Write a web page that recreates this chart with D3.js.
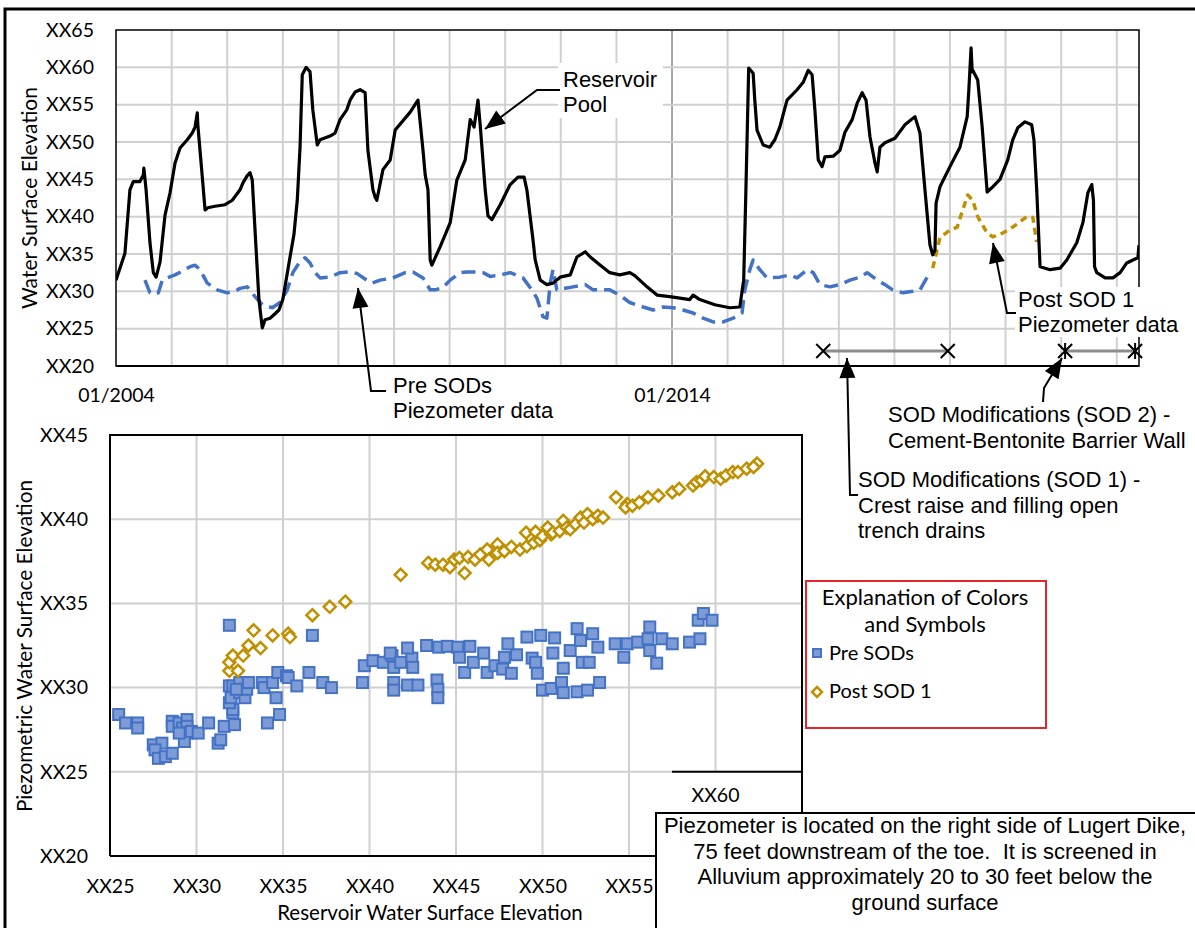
<!DOCTYPE html>
<html><head><meta charset="utf-8">
<script src="https://cdn.jsdelivr.net/npm/d3@7"></script>
<style>html,body{margin:0;padding:0;background:#fff;} svg{display:block}</style>
</head><body>
<svg id="c" width="1195" height="928"></svg>
<script>
// ---------------- DATA ----------------
// [decimal year, elevation (XX units)]
const reservoirPool = [
[2004.00,31.5],[2004.16,35.1],[2004.25,43.6],[2004.31,44.7],[2004.43,44.7],[2004.49,45.6],[2004.50,46.5],[2004.54,43.6],
[2004.61,36.5],[2004.67,32.5],[2004.72,31.9],[2004.79,33.9],[2004.88,40.2],[2004.97,43.2],[2005.06,47.2],[2005.15,49.2],
[2005.28,50.3],[2005.37,51.2],[2005.42,52.0],[2005.46,53.9],[2005.47,52.3],[2005.56,44.5],[2005.60,40.9],[2005.65,41.2],
[2005.78,41.4],[2005.96,41.6],[2006.09,42.2],[2006.23,43.6],[2006.28,44.5],[2006.36,45.5],[2006.41,45.9],[2006.45,44.9],
[2006.52,35.5],[2006.57,28.9],[2006.63,25.1],[2006.68,26.2],[2006.77,26.4],[2006.86,27.0],[2006.93,27.5],[2007.00,28.9],
[2007.13,34.6],[2007.20,37.6],[2007.26,42.2],[2007.31,49.3],[2007.35,59.0],[2007.42,60.0],[2007.49,59.4],[2007.54,54.3],
[2007.62,49.6],[2007.67,50.3],[2007.85,50.8],[2007.94,51.2],[2008.03,53.0],[2008.15,54.3],[2008.21,55.6],[2008.30,56.7],
[2008.39,57.0],[2008.48,56.6],[2008.53,48.9],[2008.62,43.6],[2008.66,42.6],[2008.69,42.2],[2008.80,46.3],[2008.93,47.6],
[2009.02,51.6],[2009.29,54.0],[2009.43,55.6],[2009.52,48.9],[2009.56,45.6],[2009.61,43.6],[2009.65,34.2],[2009.68,33.5],
[2009.83,36.0],[2010.01,39.2],[2010.13,44.9],[2010.28,47.6],[2010.37,53.0],[2010.44,52.0],[2010.51,55.6],[2010.55,52.3],
[2010.64,43.6],[2010.69,40.1],[2010.76,39.6],[2010.91,41.6],[2011.09,44.3],[2011.23,45.3],[2011.34,45.3],[2011.39,43.6],
[2011.50,36.9],[2011.54,34.2],[2011.63,31.5],[2011.75,30.9],[2011.86,31.1],[2011.99,31.9],[2012.17,32.2],[2012.29,34.6],
[2012.44,35.3],[2012.53,34.6],[2012.71,33.5],[2012.88,32.5],[2013.06,32.2],[2013.24,32.5],[2013.33,32.1],[2013.55,30.6],
[2013.73,29.5],[2013.96,29.3],[2014.32,28.9],[2014.38,29.5],[2014.50,28.9],[2014.77,28.2],[2015.04,27.8],[2015.22,27.9],
[2015.29,31.5],[2015.33,43.6],[2015.38,59.9],[2015.46,59.2],[2015.49,55.6],[2015.53,51.6],[2015.64,49.6],[2015.76,49.3],
[2015.85,50.3],[2015.94,52.0],[2016.07,55.6],[2016.25,57.0],[2016.36,58.0],[2016.45,59.6],[2016.52,59.0],[2016.57,54.3],
[2016.63,47.6],[2016.70,46.7],[2016.75,48.0],[2016.90,48.1],[2017.02,48.9],[2017.11,51.3],[2017.24,53.0],[2017.33,55.2],
[2017.42,56.6],[2017.49,55.6],[2017.56,50.7],[2017.65,47.2],[2017.69,46.0],[2017.74,49.3],[2017.83,49.9],[2018.01,50.5],
[2018.19,52.3],[2018.37,53.4],[2018.46,51.2],[2018.55,43.6],[2018.64,36.2],[2018.69,34.9],[2018.73,35.5],[2018.75,41.8],
[2018.82,44.0],[2019.00,46.7],[2019.18,49.3],[2019.31,53.4],[2019.34,57.0],[2019.38,62.6],[2019.40,59.4],[2019.41,59.6],
[2019.50,58.3],[2019.58,52.0],[2019.67,43.3],[2019.77,44.0],[2019.90,45.0],[2020.04,47.6],[2020.13,50.3],[2020.22,51.9],
[2020.35,52.7],[2020.47,52.3],[2020.51,50.3],[2020.56,43.6],[2020.62,33.3],[2020.80,32.9],[2020.98,33.1],[2021.10,34.2],
[2021.28,36.5],[2021.39,39.2],[2021.48,43.2],[2021.55,44.3],[2021.58,42.2],[2021.60,33.3],[2021.64,32.5],[2021.79,31.8],
[2021.93,31.8],[2022.06,32.5],[2022.18,33.8],[2022.29,34.2],[2022.38,34.5],[2022.40,36.2]
];
const preSodPiezometer = [
[2004.52,31.5],[2004.61,29.8],[2004.67,29.6],[2004.76,29.8],[2004.83,31.5],[2004.92,31.8],[2005.06,32.2],[2005.24,32.9],
[2005.33,33.3],[2005.42,33.5],[2005.51,32.9],[2005.64,31.1],[2005.82,30.2],[2006.00,29.8],[2006.14,30.0],[2006.23,30.4],
[2006.36,30.6],[2006.50,29.3],[2006.63,28.2],[2006.81,27.8],[2006.95,28.5],[2007.08,30.2],[2007.18,32.5],[2007.31,34.0],
[2007.40,34.5],[2007.49,33.8],[2007.58,32.5],[2007.67,31.8],[2007.85,31.9],[2008.03,32.5],[2008.21,32.6],[2008.33,32.4],
[2008.51,31.5],[2008.60,31.1],[2008.75,31.5],[2008.98,31.8],[2009.20,32.5],[2009.34,32.6],[2009.52,31.8],[2009.65,30.2],
[2009.74,30.2],[2009.88,30.5],[2010.01,31.5],[2010.19,32.5],[2010.31,32.6],[2010.49,32.6],[2010.60,32.5],[2010.73,32.0],
[2010.91,32.2],[2011.09,32.5],[2011.32,31.8],[2011.39,31.1],[2011.48,30.2],[2011.57,29.1],[2011.68,26.6],[2011.75,26.4],
[2011.81,31.1],[2011.86,32.9],[2011.93,30.2],[2012.08,30.4],[2012.22,30.6],[2012.44,30.9],[2012.58,30.2],[2012.88,30.2],
[2013.06,29.5],[2013.24,28.5],[2013.48,27.9],[2013.66,27.5],[2013.84,27.9],[2014.02,27.8],[2014.20,27.5],[2014.38,27.1],
[2014.56,26.4],[2014.74,25.9],[2014.92,25.9],[2015.10,26.4],[2015.26,27.1],[2015.31,30.2],[2015.40,32.9],[2015.46,34.2],
[2015.58,32.9],[2015.71,31.8],[2015.94,31.9],[2016.12,32.2],[2016.25,31.8],[2016.43,32.9],[2016.54,32.5],[2016.66,30.9],
[2016.84,30.6],[2017.02,30.9],[2017.20,31.5],[2017.38,31.9],[2017.51,32.5],[2017.69,31.5],[2017.83,30.9],[2017.97,30.2],
[2018.15,29.8],[2018.33,30.0],[2018.46,30.2],[2018.59,31.9],[2018.64,32.5]
];
const postSod1Piezometer = [
[2018.69,33.1],[2018.82,37.2],[2019.00,38.2],[2019.13,38.6],[2019.23,40.9],[2019.32,42.9],[2019.41,42.2],[2019.50,40.0],
[2019.67,37.8],[2019.77,37.3],[2019.95,37.8],[2020.13,38.6],[2020.26,39.3],[2020.38,40.0],[2020.49,39.9],[2020.56,36.6]
];
const sod1Period = [2016.72, 2018.96];
const sod2Period = [2021.07, 2022.33];
const sodBarLevel = 22;
const timeTickYears = [2004, 2014];
const timeTickLabels = ["01/2004", "01/2014"];
const topYTicks = [20, 25, 30, 35, 40, 45, 50, 55, 60, 65];
const scatterXTicks = [25, 30, 35, 40, 45, 50, 55];
const scatterYTicks = [20, 25, 30, 35, 40, 45];
// [reservoir elevation, piezometric elevation]
const scatterPreSods = [
[25.5,28.4],[25.9,27.9],[26.6,27.9],[26.6,27.6],[27.5,26.6],[28.0,26.7],[27.6,26.3],[27.8,25.8],[28.2,25.9],[28.6,26.1],
[28.6,28.0],[28.6,27.7],[29.0,27.9],[29.2,27.6],[29.45,28.1],[29.45,27.7],[29.5,27.3],[29.3,26.8],[29.0,27.3],[29.7,27.4],
[30.1,27.3],[30.7,27.9],[31.25,26.7],[31.4,26.9],[31.6,27.7],[32.2,27.8],[32.1,28.5],[32.1,28.7],[31.9,29.1],[32.0,29.4],
[31.9,30.1],[32.1,30.1],[32.5,30.3],[32.5,29.7],[32.8,29.4],[32.9,29.9],[33.0,30.3],[33.8,30.3],[33.9,30.0],[34.4,30.3],
[34.7,30.9],[35.2,30.7],[35.3,30.6],[34.6,29.4],[34.1,27.9],[34.8,28.4],[35.8,30.1],[36.5,30.9],[37.3,30.3],[37.8,30.0],
[39.6,30.3],[39.7,31.3],[40.2,31.6],[40.8,31.5],[41.3,31.9],[41.4,30.3],[41.4,29.85],[31.9,33.7],[36.7,33.1],[32.3,29.9],
[41.2,32.05],[41.4,31.2],[41.8,31.5],[42.45,31.75],[42.5,31.2],[42.2,32.35],[42.2,30.15],[42.8,30.15],[43.9,30.45],[43.95,29.9],
[43.95,29.4],[43.3,32.5],[44.0,32.4],[44.5,32.45],[45.1,32.4],[45.2,31.8],[45.8,32.45],[45.5,30.9],[46.0,31.5],[46.6,32.05],
[46.8,30.9],[47.25,31.3],[47.7,31.1],[47.8,31.8],[48.2,30.85],[48.5,31.95],[48.0,32.6],[49.1,33.0],[49.4,31.75],[49.6,31.5],
[49.7,30.85],[50.0,29.85],[50.5,29.95],[50.6,32.05],[49.9,33.1],[50.7,32.95],[51.1,30.3],[51.2,29.7],[51.2,31.15],[51.6,32.2],
[52.0,29.75],[52.2,32.8],[52.0,33.5],[52.3,31.5],[52.6,29.85],[52.7,31.5],[52.9,33.2],[53.2,32.4],[53.3,30.3],[54.2,32.6],
[54.7,31.8],[54.9,32.6],[55.5,32.7],[56.2,33.6],[56.1,32.9],[56.2,32.2],[56.6,31.45],[56.9,32.9],[57.5,32.6],[58.5,32.7],
[59.1,32.9],[59.0,34.0],[59.3,34.4],[59.8,34.0]
];
const scatterPostSod1 = [
[31.9,31.0],[31.9,31.5],[32.4,31.0],[32.1,31.9],[32.7,31.9],[33.0,32.5],[33.7,32.35],[33.3,33.4],[34.4,33.1],[35.3,33.2],
[35.4,33.0],[36.7,34.3],[37.7,34.8],[38.6,35.1],[41.8,36.7],[43.4,37.4],[43.8,37.3],[44.25,37.3],[44.65,37.15],[44.9,37.6],
[45.2,37.7],[45.5,36.8],[45.7,37.75],[46.1,37.6],[46.4,37.9],[46.8,38.2],[46.9,37.6],[47.4,38.5],[47.4,38.0],[47.8,38.1],
[48.2,38.35],[48.7,38.2],[49.05,39.2],[49.1,38.4],[49.6,39.25],[49.5,38.6],[49.85,38.75],[50.0,39.0],[50.3,39.5],[50.5,39.1],
[50.6,39.2],[51.0,39.3],[51.2,39.9],[51.4,39.5],[51.6,39.4],[51.9,39.7],[52.2,40.1],[52.4,39.8],[52.6,40.3],[52.9,40.0],
[53.2,40.2],[53.5,40.1],[54.25,41.3],[54.9,40.9],[54.8,40.7],[55.2,40.8],[55.6,41.0],[56.1,41.3],[56.7,41.4],[57.5,41.6],
[57.9,41.8],[58.7,42.0],[58.9,42.2],[59.2,42.3],[59.4,42.55],[59.9,42.5],[60.3,42.4],[60.6,42.6],[61.0,42.8],[61.3,42.8],
[61.8,43.0],[62.4,43.3],[62.2,43.1]
];

// ---------------- DRAW ----------------
const svg = d3.select("#c");
const TICKFONT = "Lato, 'Open Sans', sans-serif";
const ARIAL = "'Liberation Sans', Arial, sans-serif";
const BLUE = "#4472C4", GOLD = "#BF9000", GRID = "#d0d0d0";

function yearToDate(y) {
  const yr = Math.floor(y);
  const s = Date.UTC(yr, 0, 1), e = Date.UTC(yr + 1, 0, 1);
  return new Date(s + (y - yr) * (e - s));
}

svg.append("rect").attr("width", 1195).attr("height", 928).attr("fill", "#fff");

// ===== TOP CHART =====
const T = {l: 116, r: 1139, t: 30, b: 366};
const xT = d3.scaleUtc().domain([yearToDate(2004), yearToDate(2022.40)]).range([T.l, T.r]);
const yT = d3.scaleLinear().domain([20, 65]).range([T.b, T.t]);

const gTop = svg.append("g");
const yearsAll = d3.range(2005, 2023);
gTop.append("g").selectAll("line").data(yearsAll).join("line")
  .attr("x1", d => xT(yearToDate(d))).attr("x2", d => xT(yearToDate(d)))
  .attr("y1", T.t).attr("y2", T.b)
  .attr("stroke", d => d === 2014 ? "#8a8a8a" : GRID).attr("stroke-width", d => d === 2014 ? 1.5 : 2);
gTop.append("g").selectAll("line").data(topYTicks.slice(1, -1)).join("line")
  .attr("x1", T.l).attr("x2", T.r).attr("y1", d => yT(d)).attr("y2", d => yT(d))
  .attr("stroke", GRID).attr("stroke-width", 2);

svg.append("clipPath").attr("id", "clipT").append("rect")
  .attr("x", T.l).attr("y", T.t).attr("width", T.r - T.l).attr("height", T.b - T.t);

const lineT = d3.line().x(d => xT(yearToDate(d[0]))).y(d => yT(d[1])).curve(d3.curveLinear);
const series = gTop.append("g").attr("clip-path", "url(#clipT)");
series.append("path").datum(preSodPiezometer).attr("d", lineT)
  .attr("fill", "none").attr("stroke", BLUE).attr("stroke-width", 3.5)
  .attr("stroke-dasharray", "14,7").attr("stroke-linejoin", "round");
series.append("path").datum(postSod1Piezometer).attr("d", lineT)
  .attr("fill", "none").attr("stroke", GOLD).attr("stroke-width", 3.5)
  .attr("stroke-dasharray", "7,5").attr("stroke-linejoin", "round");
series.append("path").datum(reservoirPool).attr("d", lineT)
  .attr("fill", "none").attr("stroke", "#000").attr("stroke-width", 3.2)
  .attr("stroke-linejoin", "round");

[[sod1Period, false], [sod2Period, true]].forEach(([p, star]) => {
  const y = yT(sodBarLevel);
  gTop.append("line").attr("x1", xT(yearToDate(p[0]))).attr("x2", xT(yearToDate(p[1])))
    .attr("y1", y).attr("y2", y).attr("stroke", "#8c8c8c").attr("stroke-width", 3);
  p.forEach(v => {
    const cx = xT(yearToDate(v));
    let d = `M${cx-7},${y-7}L${cx+7},${y+7}M${cx-7},${y+7}L${cx+7},${y-7}`;
    if (star) d += `M${cx},${y-8}L${cx},${y+8}`;
    gTop.append("path").attr("d", d).attr("stroke", "#000").attr("stroke-width", 2).attr("fill", "none");
  });
});

gTop.append("rect").attr("x", T.l).attr("y", T.t).attr("width", T.r - T.l).attr("height", T.b - T.t)
  .attr("fill", "none").attr("stroke", "#000").attr("stroke-width", 1.5);
gTop.append("line").attr("x1", T.l).attr("x2", T.r).attr("y1", T.b).attr("y2", T.b)
  .attr("stroke", "#000").attr("stroke-width", 2);

const axYT = d3.axisLeft(yT).tickValues(topYTicks).tickFormat(d => "XX" + d).tickSize(0).tickPadding(22);
const gYT = svg.append("g").attr("transform", `translate(${T.l},0)`).call(axYT);
gYT.select(".domain").remove();
gYT.selectAll("text").attr("font-family", TICKFONT).attr("font-size", 19.5).attr("fill", "#000");

const axXT = d3.axisBottom(xT).tickValues(timeTickYears.map(yearToDate))
  .tickFormat((d, i) => timeTickLabels[i]).tickSize(0).tickPadding(22);
const gXT = svg.append("g").attr("transform", `translate(0,${T.b})`).call(axXT);
gXT.select(".domain").remove();
gXT.selectAll("text").attr("font-family", TICKFONT).attr("font-size", 19.5).attr("fill", "#000");

svg.append("text").attr("transform", "translate(37,198) rotate(-90)")
  .attr("text-anchor", "middle").attr("font-family", TICKFONT).attr("font-size", 21)
  .text("Water Surface Elevation");

// ===== SCATTER =====
const S = {l: 110, r: 802, t: 435, b: 856};
const xS = d3.scaleLinear().domain([25, 65]).range([S.l, S.r]);
const yS = d3.scaleLinear().domain([20, 45]).range([S.b, S.t]);
const sc = svg.append("g");
sc.append("g").selectAll("line").data([30, 35, 40, 45, 50, 55, 60]).join("line")
  .attr("x1", d => xS(d)).attr("x2", d => xS(d)).attr("y1", S.t).attr("y2", S.b)
  .attr("stroke", GRID).attr("stroke-width", 2);
sc.append("g").selectAll("line").data([25, 30, 35, 40]).join("line")
  .attr("x1", S.l).attr("x2", S.r).attr("y1", d => yS(d)).attr("y2", d => yS(d))
  .attr("stroke", GRID).attr("stroke-width", 2);

sc.append("g").selectAll("rect").data(scatterPreSods).join("rect")
  .attr("x", d => xS(d[0]) - 5.5).attr("y", d => yS(d[1]) - 5.5).attr("width", 11).attr("height", 11)
  .attr("fill", "#7d9bd6").attr("stroke", BLUE).attr("stroke-width", 2);
const diamond = "M0,-6L6,0L0,6L-6,0Z";
sc.append("g").selectAll("path").data(scatterPostSod1).join("path")
  .attr("transform", d => `translate(${xS(d[0])},${yS(d[1])})`).attr("d", diamond)
  .attr("fill", "#fff").attr("stroke", GOLD).attr("stroke-width", 2.5);

sc.append("path").attr("d", `M${S.l},${S.b}L${S.l},${S.t}L${S.r},${S.t}L${S.r},813`)
  .attr("fill", "none").attr("stroke", "#000").attr("stroke-width", 2);
sc.append("line").attr("x1", S.l).attr("x2", 672).attr("y1", S.b).attr("y2", S.b)
  .attr("stroke", "#000").attr("stroke-width", 2);

const axYS = d3.axisLeft(yS).tickValues(scatterYTicks).tickFormat(d => "XX" + d).tickSize(0).tickPadding(22);
const gYS = svg.append("g").attr("transform", `translate(${S.l},0)`).call(axYS);
gYS.select(".domain").remove();
gYS.selectAll("text").attr("font-family", TICKFONT).attr("font-size", 19.5).attr("fill", "#000");
const axXS = d3.axisBottom(xS).tickValues(scatterXTicks).tickFormat(d => "XX" + d).tickSize(0).tickPadding(23);
const gXS = svg.append("g").attr("transform", `translate(0,${S.b})`).call(axXS);
gXS.select(".domain").remove();
gXS.selectAll("text").attr("font-family", TICKFONT).attr("font-size", 19.5).attr("fill", "#000");

svg.append("text").attr("transform", "translate(32,646) rotate(-90)")
  .attr("text-anchor", "middle").attr("font-family", TICKFONT).attr("font-size", 20.8)
  .text("Piezometric Water Surface Elevation");
svg.append("text").attr("x", 430).attr("y", 920)
  .attr("text-anchor", "middle").attr("font-family", TICKFONT).attr("font-size", 20.5)
  .text("Reservoir Water Surface Elevation");

svg.append("rect").attr("x", 673).attr("y", yS(25)).attr("width", S.r - 674).attr("height", S.b - yS(25) + 2).attr("fill", "#fff");
svg.append("line").attr("x1", 672).attr("x2", S.r).attr("y1", yS(25)).attr("y2", yS(25)).attr("stroke", "#000").attr("stroke-width", 2);
svg.append("line").attr("x1", S.r).attr("x2", S.r).attr("y1", yS(25)).attr("y2", 813).attr("stroke", "#000").attr("stroke-width", 2);
svg.append("text").attr("x", xS(60)).attr("y", 802).attr("text-anchor", "middle")
  .attr("font-family", TICKFONT).attr("font-size", 19.5).text("XX60");

const lg = svg.append("g");
lg.append("rect").attr("x", 806).attr("y", 581).attr("width", 240).attr("height", 147)
  .attr("fill", "#fff").attr("stroke", "#e3262b").attr("stroke-width", 2);
lg.append("text").attr("x", 925).attr("y", 605).attr("text-anchor", "middle")
  .attr("font-family", TICKFONT).attr("font-size", 22).text("Explanation of Colors");
lg.append("text").attr("x", 925).attr("y", 632).attr("text-anchor", "middle")
  .attr("font-family", TICKFONT).attr("font-size", 22).text("and Symbols");
lg.append("rect").attr("x", 813).attr("y", 649).attr("width", 8).attr("height", 8)
  .attr("fill", "#7d9bd6").attr("stroke", BLUE).attr("stroke-width", 2);
lg.append("text").attr("x", 829).attr("y", 660).attr("font-family", TICKFONT).attr("font-size", 20).text("Pre SODs");
lg.append("path").attr("transform", "translate(817,692)").attr("d", "M0,-5L5,0L0,5L-5,0Z")
  .attr("fill", "#fff").attr("stroke", GOLD).attr("stroke-width", 2.5);
lg.append("text").attr("x", 829).attr("y", 698).attr("font-family", TICKFONT).attr("font-size", 20).text("Post SOD 1");

svg.append("rect").attr("x", 656).attr("y", 813).attr("width", 600).attr("height", 140)
  .attr("fill", "#fff").attr("stroke", "#000").attr("stroke-width", 2);
const note = ["Piezometer is located on the right side of Lugert Dike,",
  "75 feet downstream of the toe.  It is screened in",
  "Alluvium approximately 20 to 30 feet below the",
  "ground surface"];
note.forEach((t, i) => svg.append("text").attr("x", 925).attr("y", 833 + i * 25.7)
  .attr("text-anchor", "middle").attr("font-family", ARIAL).attr("font-size", 22)
  .style("white-space", "pre").text(t));

function arrow(pts) {
  const g = svg.append("g");
  g.append("path").attr("d", d3.line()(pts)).attr("fill", "none").attr("stroke", "#000").attr("stroke-width", 2);
  const [x1, y1] = pts[pts.length - 2], [x2, y2] = pts[pts.length - 1];
  const a = Math.atan2(y2 - y1, x2 - x1), L = 20, w = 8;
  const bx = x2 - L * Math.cos(a), by = y2 - L * Math.sin(a);
  const p = [[x2, y2], [bx + w * Math.sin(a), by - w * Math.cos(a)], [bx - w * Math.sin(a), by + w * Math.cos(a)]];
  g.append("path").attr("d", "M" + p.join("L") + "Z").attr("fill", "#000");
}
function addLabel(lines, x, y0, dy, bg) {
  if (bg) svg.append("rect").attr("x", bg[0]).attr("y", bg[1]).attr("width", bg[2]).attr("height", bg[3]).attr("fill", "#fff");
  lines.forEach((t, i) => svg.append("text").attr("x", x).attr("y", y0 + i * dy)
    .attr("font-family", ARIAL).attr("font-size", 22).text(t));
}
addLabel(["Reservoir", "Pool"], 563, 87, 25, [558, 63, 105, 55]);
arrow([[560, 90], [537, 90], [485, 129]]);
addLabel(["Pre SODs", "Piezometer data"], 393, 393, 25);
arrow([[386, 391], [371, 391], [358, 288]]);
addLabel(["Post SOD 1", "Piezometer data"], 1018, 307, 25, [1015, 287, 175, 50]);
arrow([[1016, 313], [1007, 313], [993, 243]]);
addLabel(["SOD Modifications (SOD 2) -", "Cement-Bentonite Barrier Wall"], 888, 422, 26);
arrow([[1043, 402], [1044, 388], [1062, 358]]);
addLabel(["SOD Modifications (SOD 1) -", "Crest raise and filling open", "trench drains"], 858, 487, 25.5);
arrow([[858, 495], [850, 495], [847, 358]]);

svg.append("rect").attr("x", 5).attr("y", 9).attr("width", 1200).attr("height", 940)
  .attr("fill", "none").attr("stroke", "#000").attr("stroke-width", 3);
</script>
</body></html>
